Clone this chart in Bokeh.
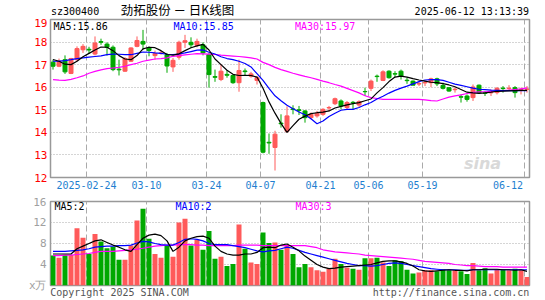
import numpy as np
from bokeh.plotting import figure
from bokeh.layouts import column
from bokeh.models import Range1d, FixedTicker, Label, ColumnDataSource
from bokeh.embed import file_html
from bokeh.resources import INLINE

# ---------------- data ----------------
open_ = [17.11, 16.93, 17.22, 16.61, 17.22, 17.66, 17.68, 17.47, 18.02, 17.91,
         17.77, 16.80, 16.71, 17.15, 17.81, 18.03, 17.74, 17.40, 17.50, 17.44,
         16.90, 17.33, 17.99, 17.99, 17.85, 17.88, 17.44, 16.47, 16.34, 16.57,
         16.52, 16.20, 16.72, 16.49, 16.30, 15.32, 13.56, 13.33, 14.41, 14.05,
         15.04, 15.00, 14.95, 14.65, 14.73, 14.80, 15.08, 15.27, 15.39, 15.10,
         15.33, 15.21, 15.81, 15.95, 16.49, 16.30, 16.71, 16.60, 16.71, 16.31,
         16.27, 16.14, 16.19, 16.20, 16.37, 16.08, 15.98, 15.89, 15.58, 15.61,
         15.54, 16.09, 15.75, 15.75, 15.76, 15.96, 15.94, 15.98, 15.89, 15.91]
high = [17.22, 17.27, 17.41, 17.30, 17.81, 17.91, 17.79, 18.25, 18.15, 17.99,
        17.85, 17.22, 17.33, 17.77, 18.25, 18.54, 17.81, 17.62, 17.62, 17.52,
        17.30, 18.06, 18.32, 18.21, 18.15, 17.99, 17.52, 16.78, 17.03, 16.75,
        16.56, 17.22, 16.83, 16.68, 16.49, 15.36, 13.95, 14.07, 14.80, 15.15,
        15.20, 15.17, 14.98, 14.88, 14.95, 15.07, 15.17, 15.54, 15.46, 15.39,
        15.39, 15.42, 15.98, 16.34, 16.56, 16.75, 16.75, 16.71, 16.78, 16.42,
        16.30, 16.27, 16.30, 16.42, 16.42, 16.20, 15.99, 16.00, 15.68, 15.68,
        16.12, 16.12, 15.83, 15.90, 16.01, 16.05, 16.09, 16.05, 15.98, 16.05]
low = [16.78, 16.89, 16.59, 16.58, 17.15, 17.52, 17.49, 17.41, 17.88, 17.40,
       16.71, 16.52, 16.68, 17.12, 17.77, 17.66, 17.37, 17.22, 17.44, 16.64,
       16.68, 17.22, 17.74, 17.74, 17.77, 17.41, 15.98, 16.24, 16.27, 16.42,
       16.15, 15.80, 16.53, 16.42, 16.12, 13.07, 13.05, 12.31, 14.21, 13.98,
       14.80, 14.77, 14.43, 14.58, 14.65, 14.73, 14.92, 15.21, 15.02, 15.02,
       15.02, 15.13, 15.61, 15.83, 16.24, 16.27, 16.38, 16.45, 16.34, 16.15,
       16.09, 16.05, 16.05, 16.00, 16.05, 15.90, 15.80, 15.76, 15.32, 15.36,
       15.39, 15.71, 15.61, 15.61, 15.68, 15.76, 15.83, 15.54, 15.68, 15.76]
close_ = [16.93, 17.15, 16.68, 17.27, 17.71, 17.81, 17.65, 17.96, 17.99, 17.77,
          16.78, 16.77, 17.27, 17.74, 18.07, 17.91, 17.63, 17.49, 17.52, 16.94,
          17.19, 17.99, 18.06, 17.88, 18.03, 17.52, 16.56, 16.44, 16.71, 16.53,
          16.20, 16.74, 16.69, 16.59, 16.42, 13.12, 13.53, 13.92, 14.38, 14.73,
          15.01, 14.97, 14.65, 14.80, 14.85, 15.02, 15.10, 15.49, 15.17, 15.32,
          15.31, 15.36, 15.80, 16.27, 16.47, 16.68, 16.42, 16.58, 16.49, 16.29,
          16.09, 16.16, 16.21, 16.37, 16.15, 15.95, 15.83, 15.91, 15.56, 15.46,
          16.01, 15.76, 15.73, 15.77, 15.95, 15.94, 15.96, 15.76, 15.91, 15.92]
ma5 = [17.23, 17.15, 17.02, 17.00, 17.15, 17.35, 17.50, 17.65, 17.78, 17.77,
       17.62, 17.40, 17.25, 17.22, 17.40, 17.70, 17.77, 17.75, 17.62, 17.45,
       17.42, 17.48, 17.62, 17.75, 17.83, 17.90, 17.65, 17.25, 17.00, 16.75,
       16.57, 16.52, 16.53, 16.52, 16.45, 15.95, 15.35, 14.85, 14.40, 14.00,
       14.30, 14.58, 14.72, 14.83, 14.87, 14.90, 14.95, 15.08, 15.15, 15.22,
       15.27, 15.32, 15.40, 15.48, 15.75, 15.98, 16.25, 16.45, 16.49, 16.45,
       16.38, 16.32, 16.27, 16.22, 16.20, 16.16, 16.10, 16.02, 15.90, 15.78,
       15.75, 15.73, 15.75, 15.78, 15.82, 15.83, 15.84, 15.85, 15.86, 15.86]
ma10 = [17.15, 17.16, 17.18, 17.22, 17.27, 17.30, 17.33, 17.36, 17.39, 17.44,
        17.47, 17.46, 17.44, 17.44, 17.50, 17.56, 17.55, 17.52, 17.50, 17.46,
        17.45, 17.47, 17.52, 17.58, 17.64, 17.65, 17.55, 17.47, 17.35, 17.27,
        17.22, 17.15, 17.05, 16.90, 16.60, 16.30, 15.95, 15.62, 15.40, 15.20,
        15.05, 14.90, 14.78, 14.60, 14.38, 14.50, 14.70, 14.85, 14.98, 15.02,
        15.02, 15.10, 15.22, 15.32, 15.48, 15.60, 15.74, 15.86, 15.96, 16.05,
        16.15, 16.25, 16.32, 16.34, 16.34, 16.30, 16.22, 16.14, 16.08, 16.02,
        15.96, 15.91, 15.89, 15.87, 15.86, 15.85, 15.85, 15.85, 15.85, 15.85]
ma30 = [16.34, 16.31, 16.30, 16.35, 16.42, 16.50, 16.62, 16.70, 16.77, 16.82,
        16.85, 16.88, 16.93, 17.00, 17.06, 17.15, 17.20, 17.25, 17.27, 17.30,
        17.37, 17.40, 17.43, 17.46, 17.49, 17.48, 17.47, 17.45, 17.42, 17.40,
        17.38, 17.36, 17.33, 17.30, 17.25, 17.10, 17.00, 16.88, 16.78, 16.70,
        16.62, 16.55, 16.48, 16.42, 16.35, 16.27, 16.20, 16.12, 16.05, 15.95,
        15.85, 15.75, 15.62, 15.54, 15.50, 15.46, 15.46, 15.46, 15.46, 15.46,
        15.46, 15.46, 15.44, 15.41, 15.39, 15.48, 15.56, 15.62, 15.66, 15.72,
        15.77, 15.79, 15.80, 15.82, 15.83, 15.85, 15.87, 15.90, 15.93, 15.97]
volume = [5.7, 5.3, 5.8, 5.8, 10.9, 9.1, 6.0, 9.8, 8.4, 7.1,
          7.4, 4.9, 4.9, 7.6, 12.4, 14.6, 8.9, 6.0, 5.3, 7.6,
          5.5, 12.0, 12.7, 7.6, 8.7, 6.8, 10.4, 5.1, 5.5, 3.7,
          4.1, 11.6, 7.0, 4.4, 4.1, 10.1, 8.1, 8.2, 6.8, 7.7,
          6.0, 3.5, 4.1, 3.5, 2.9, 2.6, 3.2, 5.1, 4.1, 3.4,
          3.2, 3.0, 5.2, 5.2, 5.3, 4.4, 3.7, 4.8, 4.6, 3.0,
          2.3, 2.5, 2.9, 2.9, 2.7, 3.1, 2.9, 2.9, 2.7, 2.2,
          4.3, 2.9, 3.3, 2.3, 3.0, 3.0, 2.9, 3.2, 2.9, 1.6]
vma5 = [6.0, 6.0, 6.0, 6.0, 7.0, 7.5, 8.0, 8.5, 8.7, 8.2,
        7.7, 7.3, 6.8, 6.5, 7.8, 9.0, 9.6, 9.8, 9.5, 8.5,
        6.5, 7.3, 8.5, 9.0, 9.3, 9.4, 9.0, 7.5, 6.5, 6.0,
        5.8, 5.8, 6.0, 6.0, 6.3, 7.2, 7.3, 7.2, 7.7, 7.9,
        7.3, 6.6, 5.6, 4.8, 4.0, 3.5, 3.2, 3.3, 3.5, 3.6,
        3.7, 3.8, 3.9, 4.0, 4.3, 4.6, 4.7, 4.7, 4.5, 4.2,
        3.7, 3.0, 2.8, 2.7, 2.8, 2.9, 3.0, 2.9, 2.9, 2.8,
        3.0, 3.0, 3.1, 3.1, 3.1, 3.0, 3.0, 2.9, 3.0, 2.7]
vma10 = [6.5, 6.5, 6.5, 6.6, 6.7, 6.8, 7.0, 7.3, 7.4, 7.5,
         7.5, 7.6, 7.6, 7.7, 8.1, 8.4, 8.3, 8.0, 7.8, 7.7,
         7.7, 8.2, 8.8, 8.9, 8.8, 8.5, 8.0, 7.8, 7.8, 7.8,
         7.6, 7.4, 7.2, 6.9, 6.6, 6.4, 6.6, 6.7, 7.0, 7.3,
         7.1, 6.7, 6.3, 6.0, 5.7, 5.4, 5.1, 4.8, 4.5, 4.2,
         4.0, 3.8, 3.8, 3.7, 3.8, 4.0, 4.2, 4.3, 4.2, 4.0,
         3.8, 3.6, 3.4, 3.2, 3.1, 3.0, 3.0, 3.0, 2.9, 2.9,
         3.0, 3.0, 3.0, 3.0, 3.0, 3.0, 3.0, 3.0, 3.0, 3.0]
vma30 = [5.7, 5.7, 5.8, 5.8, 5.9, 6.0, 6.1, 6.3, 6.5, 6.5,
         6.5, 6.6, 6.7, 6.8, 6.9, 7.1, 7.3, 7.5, 7.6, 7.7,
         7.7, 7.8, 7.8, 7.8, 7.7, 7.7, 7.6, 7.6, 7.6, 7.6,
         7.6, 7.7, 7.7, 7.7, 7.7, 7.6, 7.6, 7.6, 7.6, 7.6,
         7.6, 7.6, 7.6, 7.4, 7.2, 6.8, 6.6, 6.4, 6.3, 6.2,
         6.1, 6.0, 5.8, 5.7, 5.6, 5.5, 5.4, 5.3, 5.2, 5.1,
         5.0, 4.8, 4.6, 4.5, 4.4, 4.3, 4.2, 4.0, 3.9, 3.8,
         3.8, 3.7, 3.6, 3.6, 3.6, 3.5, 3.5, 3.5, 3.5, 3.5]
tick_idx = [6, 16, 26, 35, 45, 53, 62, 79]
tick_labels = ["2025-02-24", "03-10", "03-24", "04-07", "04-21", "05-06", "05-19", "06-12"]
price_ticks = [12, 13, 14, 15, 16, 17, 18, 19]
vol_ticks = [4, 8, 12, 16]
vol_unit = "x万"
legend_price = ["MA5:15.86", "MA10:15.85", "MA30:15.97"]
legend_vol = ["MA5:2", "MA10:2", "MA30:3"]
header = ["sz300400", "劲拓股份 － 日K线图", "2025-06-12 13:13:39"]
footer = ["Copyright 2025 SINA.COM", "http://finance.sina.com.cn"]

# ---------------- styling ----------------
RED = "#ff5a5a"
GREEN = "#00a800"
MONO = "DejaVu Sans Mono"
GRID = "#aaaaaa"
DATEC = "#1f7fd0"
n = len(close_)
xs = np.arange(n) + 5 / 12.0
cols = [RED if c > o else GREEN for o, c in zip(open_, close_)]
src = ColumnDataSource(dict(
    x=xs, h=high, l=low,
    top=np.maximum(open_, close_), bot=np.minimum(open_, close_),
    col=cols, vol=volume))

xr = Range1d(0, 479 / 6.0)


def fx(px):
    return (px - 50) / 6.0


def lab(fig, x, y, text, color="#000000", size="10px", align="left", font=MONO, style="normal"):
    fig.add_layout(Label(x=x, y=y, x_units="data", y_units="data", text=text,
                         text_color=color, text_font=font, text_font_size=size,
                         text_align=align, text_baseline="middle", text_font_style=style))


def plain_axis(ax, standoff):
    ax.axis_line_color = None
    ax.major_tick_line_color = None
    ax.minor_tick_line_color = None
    ax.major_tick_in = 0
    ax.major_tick_out = 0
    ax.major_label_standoff = standoff


# ---------------- header strip (frame aligned with the panels: x 50..529) ----------------
h = figure(width=545, height=18, x_range=xr, y_range=Range1d(18, 0),
           output_backend="svg", toolbar_location=None,
           x_axis_location=None, y_axis_location=None,
           min_border_left=50, min_border_right=16, min_border_top=0, min_border_bottom=0,
           outline_line_color=None)
h.grid.visible = False
lab(h, fx(50.5), 10.5, header[0])
lab(h, fx(177), 9, header[1], size="12.5px", align="center", font="Noto Sans CJK SC")
lab(h, fx(528.5), 10.5, header[2], align="right")

# ---------------- price panel ----------------
p = figure(width=545, height=177, x_range=xr, y_range=Range1d(12, 19),
           output_backend="svg", toolbar_location=None,
           min_border_left=50, min_border_right=16, min_border_top=1, min_border_bottom=18,
           outline_line_color="#999999", outline_line_width=1.5)
p.xgrid.ticker = FixedTicker(ticks=tick_idx)
p.xgrid.grid_line_color = GRID
p.xgrid.grid_line_dash = "6 3"
p.ygrid.ticker = FixedTicker(ticks=price_ticks)
p.ygrid.grid_line_color = GRID
p.ygrid.grid_line_dash = "1 2"

p.yaxis.ticker = FixedTicker(ticks=price_ticks)
p.yaxis.major_label_text_color = "#ff0000"
p.yaxis.major_label_text_font = MONO
p.yaxis.major_label_text_font_size = "11px"
# last date label sits left of its grid line (right-aligned at the frame edge)
label_pos = tick_idx[:-1] + [tick_idx[-1] - 2.75]
p.xaxis.ticker = FixedTicker(ticks=label_pos)
p.xaxis.major_label_overrides = {t: l for t, l in zip(label_pos, tick_labels)}
p.xaxis.major_label_text_color = DATEC
p.xaxis.major_label_text_font = MONO
p.xaxis.major_label_text_font_size = "10px"
plain_axis(p.xaxis[0], 3)
plain_axis(p.yaxis[0], 3)

p.segment(x0="x", y0="h", x1="x", y1="l", color="col", line_width=1, source=src)
p.vbar(x="x", width=4 / 6.0, top="top", bottom="bot", fill_color="col",
       line_color="col", line_width=1, source=src)
p.line(xs, ma30, color="#ff00ff", line_width=1.2)
p.line(xs, ma10, color="#0000ff", line_width=1.2)
p.line(xs, ma5, color="#000000", line_width=1.2)


def fy1(py):
    return 12 + (177 - py) * 7 / 158.0


lab(p, fx(53), fy1(25.5), legend_price[0], color="#000000")
lab(p, fx(173), fy1(25.5), legend_price[1], color="#0000ff")
lab(p, fx(294.5), fy1(25.5), legend_price[2], color="#ff00ff")
lab(p, fx(482), fy1(163), "sina", color="#d9d9d9", size="16px", align="center",
    font="DejaVu Sans", style="bold italic")

# ---------------- volume panel ----------------
q = figure(width=545, height=105, x_range=xr, y_range=Range1d(0, 16),
           output_backend="svg", toolbar_location=None,
           min_border_left=50, min_border_right=16, min_border_top=6, min_border_bottom=14,
           outline_line_color="#999999", outline_line_width=1.5)
q.xgrid.ticker = FixedTicker(ticks=tick_idx)
q.xgrid.grid_line_color = GRID
q.xgrid.grid_line_dash = "6 3"
q.ygrid.ticker = FixedTicker(ticks=vol_ticks)
q.ygrid.grid_line_color = GRID
q.ygrid.grid_line_dash = "1 2"
q.yaxis.ticker = FixedTicker(ticks=[0] + vol_ticks)
q.yaxis.major_label_overrides = {0: vol_unit}
q.yaxis.major_label_text_color = "#a0a0a0"
q.yaxis.major_label_text_font = MONO
q.yaxis.major_label_text_font_size = "11px"
plain_axis(q.yaxis[0], 4)
# footer texts (copyright / url) carried by the bottom axis
foot_pos = [11.5, 66.75]
q.xaxis.ticker = FixedTicker(ticks=foot_pos)
q.xaxis.major_label_overrides = {t: l for t, l in zip(foot_pos, footer)}
q.xaxis.major_label_text_color = "#555555"
q.xaxis.major_label_text_font = MONO
q.xaxis.major_label_text_font_size = "10px"
plain_axis(q.xaxis[0], 1)

q.vbar(x="x", width=5 / 6.0, top="vol", bottom=0, fill_color="col", line_color=None, source=src)
q.line(xs, vma30, color="#ff00ff", line_width=1.2)
q.line(xs, vma10, color="#0000ff", line_width=1.2)
q.line(xs, vma5, color="#000000", line_width=1.2)


def fy2(py):
    return (286 - py) * 16 / 85.0


lab(q, fx(54), fy2(206), legend_vol[0], color="#000000")
lab(q, fx(175), fy2(206), legend_vol[1], color="#0000ff")
lab(q, fx(295), fy2(206), legend_vol[2], color="#ff00ff")

layout = column(h, p, q, spacing=0)
open("out.html", "w").write(file_html(layout, INLINE))
